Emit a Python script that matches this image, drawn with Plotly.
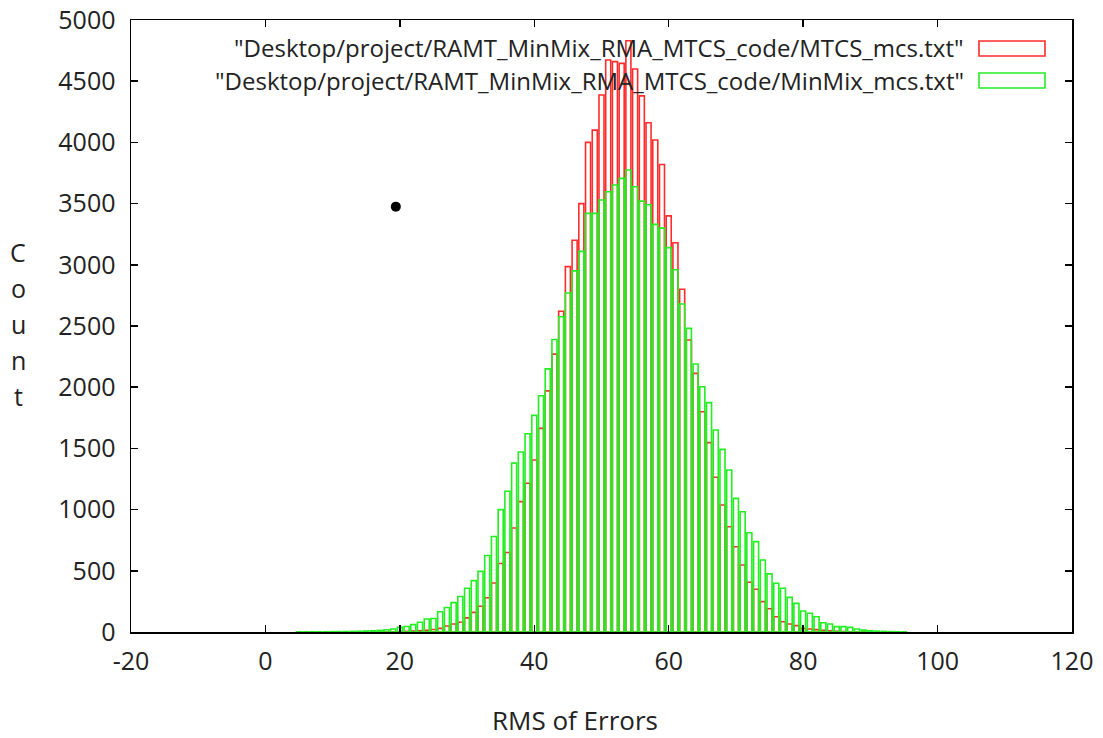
import plotly.graph_objects as go

# ---- data ----
rms_bins = list(range(5, 96))

mtcs_counts = [
    0, 0, 0, 0, 0, 0, 0, 0, 0, 0,            # 5-14
    0, 0, 1, 1, 2, 3, 5, 8, 10, 14,          # 15-24
    20, 30, 49, 65, 80, 115, 160, 210, 280, 400,   # 25-34
    560, 650, 850, 1065, 1215, 1405, 1664, 1970, 2270, 2620,  # 35-44
    2985, 3200, 3500, 4000, 4100, 4387, 4673, 4660, 4646, 4831,  # 45-54
    4600, 4380, 4160, 4020, 3820, 3400, 3180, 2800, 2386, 2113,  # 55-64
    1800, 1547, 1264, 1038, 860, 697, 547, 406, 349, 248,  # 65-74
    190, 125, 84, 65, 52, 30, 25, 19, 14, 10,  # 75-84
    6, 4, 2, 1, 0, 0, 0, 0, 0, 0, 0           # 85-95
]

minmix_counts = [
    1, 1, 2, 2, 2, 3, 3, 4, 5, 6,            # 5-14
    8, 10, 13, 18, 25, 38, 45, 60, 80, 106,  # 15-24
    110, 165, 200, 240, 290, 357, 420, 495, 625, 780,  # 25-34
    1000, 1150, 1380, 1470, 1620, 1770, 1930, 2150, 2390, 2575,  # 35-44
    2770, 2950, 3110, 3420, 3420, 3529, 3597, 3652, 3706, 3775,  # 45-54
    3638, 3520, 3490, 3330, 3300, 3140, 2960, 2680, 2481, 2190,  # 55-64
    2004, 1874, 1650, 1492, 1323, 1092, 983, 811, 738, 588,  # 65-74
    475, 398, 357, 283, 234, 172, 153, 125, 76, 65,  # 75-84
    44, 44, 38, 25, 15, 10, 7, 5, 3, 2, 1      # 85-95
]

stray_x = [19.4]
stray_y = [3475]

legend_labels = [
    '"Desktop/project/RAMT_MinMix_RMA_MTCS_code/MTCS_mcs.txt"',
    '"Desktop/project/RAMT_MinMix_RMA_MTCS_code/MinMix_mcs.txt"',
]
x_ticks = [-20, 0, 20, 40, 60, 80, 100, 120]
x_tick_text = ["-20", "0", "20", "40", "60", "80", "100", "120"]
y_ticks = list(range(0, 5001, 500))

RED = "#ff2b2b"
GREEN = "#22ee22"
FONT = "Open Sans"
TXT = "#222222"

fig = go.Figure()
fig.add_trace(go.Bar(
    x=rms_bins, y=mtcs_counts, width=0.75,
    marker=dict(color="rgba(0,0,0,0)", line=dict(color=RED, width=1.6)),
    showlegend=False,
))
fig.add_trace(go.Bar(
    x=rms_bins, y=minmix_counts, width=0.75,
    marker=dict(color="rgba(0,0,0,0)", line=dict(color=GREEN, width=1.6)),
    showlegend=False,
))
fig.add_trace(go.Scatter(
    x=stray_x, y=stray_y, mode="markers",
    marker=dict(color="black", size=10), showlegend=False,
))

# body margin is removed by post_script, so page pixels == figure pixels
W, H = 1103, 738
L, R, T, B = 131, 1072, 20, 632   # plot area in page pixels

def px(xp):
    return (xp - L) / (R - L)

def py(yp):
    return (B - yp) / (B - T)

annotations = []
shapes = []
for i, (lab, col) in enumerate(zip(legend_labels, [RED, GREEN])):
    yc = 48 + 33 * i
    annotations.append(dict(
        x=px(966), y=py(yc), xref="paper", yref="paper",
        text=lab, showarrow=False, xanchor="right", yanchor="middle",
        font=dict(family=FONT, size=24, color=TXT),
    ))
    y0 = 41 + 32 * i
    shapes.append(dict(
        type="rect", xref="paper", yref="paper",
        x0=px(979), x1=px(1045), y0=py(y0), y1=py(y0 + 15),
        line=dict(color=col, width=1.6), fillcolor="rgba(0,0,0,0)",
    ))

annotations.append(dict(
    x=px(575), y=py(720), xref="paper", yref="paper", text="RMS of Errors",
    showarrow=False, xanchor="center", yanchor="middle",
    font=dict(family=FONT, size=26, color=TXT),
))
for j, ch in enumerate("Count"):
    annotations.append(dict(
        x=px(18), y=py(252 + 36 * j), xref="paper", yref="paper", text=ch,
        showarrow=False, xanchor="center", yanchor="middle",
        font=dict(family=FONT, size=25, color=TXT),
    ))

axis_common = dict(
    showline=True, linecolor="black", linewidth=1.5, mirror="ticks",
    ticks="inside", ticklen=7, tickwidth=1.5, tickcolor="black",
    showgrid=False, zeroline=False, ticklabeloverflow="allow",
    automargin=False,
    tickfont=dict(family=FONT, size=25, color=TXT),
)

fig.update_layout(
    width=W, height=H,
    margin=dict(l=L, r=W - R, t=T, b=H - B, pad=0, autoexpand=False),
    paper_bgcolor="white", plot_bgcolor="white",
    barmode="overlay",
    hovermode=False,
    xaxis=dict(range=[-20, 120], tickvals=x_ticks, ticktext=x_tick_text,
               ticklabelstandoff=6, **axis_common),
    yaxis=dict(range=[0, 5000], tickvals=y_ticks, ticklabelstandoff=9,
               **axis_common),
    annotations=annotations, shapes=shapes,
)
fig.write_html(
    "out.html",
    config={"displayModeBar": False, "staticPlot": True},
    post_script="document.body.style.margin='0px';document.body.style.overflow='hidden';",
)
